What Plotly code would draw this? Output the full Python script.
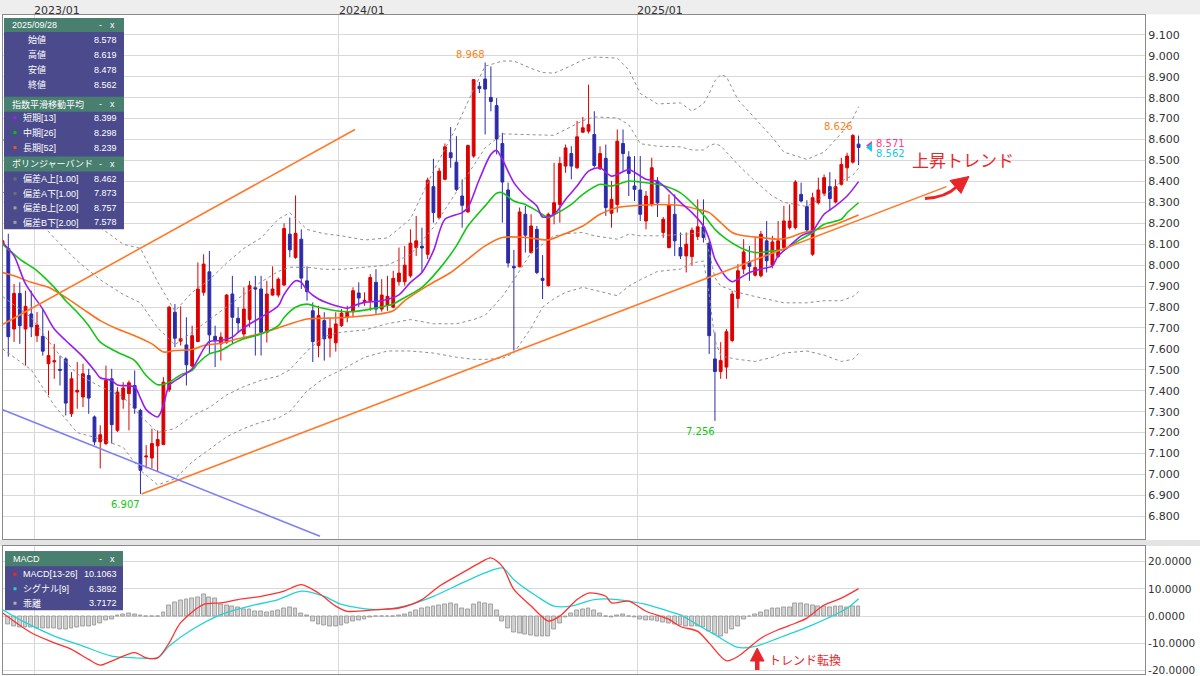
import plotly.graph_objects as go
import pandas as pd

W, H = 1200, 676
ML, MR = 3, 55
PW = W - ML - MR

def PX(px):
    return (px - ML) / PW

def PY(py):
    return 1 - py / H

def wk(k):
    return pd.Timestamp('2022-11-27') + pd.Timedelta(days=7 * k)

# ---------------- data ----------------
dates = pd.date_range('2022-11-20', periods=150, freq='7D')

opens = [8.100, 8.080, 7.695, 7.865, 7.695, 7.767, 7.663, 7.660, 7.529, 7.538, 7.502,
         7.552, 7.290, 7.394, 7.370, 7.473, 7.275, 7.156, 7.148, 7.457, 7.211,
         7.359, 7.386, 7.425, 7.306, 7.084, 7.079, 7.137, 7.143, 7.405, 7.775,
         7.637, 7.619, 7.518, 7.635, 7.870, 7.968, 7.660, 7.624, 7.632, 7.862,
         7.746, 7.671, 7.740, 7.892, 7.886, 7.679, 7.857, 7.857, 7.905, 8.148,
         8.037, 8.124, 7.925, 7.782, 7.616, 7.735, 7.651, 7.629, 7.711, 7.751,
         7.778, 7.867, 7.826, 7.830, 7.918, 7.790, 7.810, 7.799, 7.921, 7.921,
         7.949, 8.084, 8.090, 8.052, 8.375, 8.227, 8.410, 8.537, 8.492, 8.330,
         8.254, 8.521, 8.854, 8.889, 8.801, 8.762, 8.581, 8.359, 7.994, 7.992,
         8.243, 8.060, 8.171, 7.937, 7.902, 8.243, 8.290, 8.473, 8.533, 8.465,
         8.635, 8.640, 8.624, 8.460, 8.510, 8.248, 8.290, 8.581, 8.517, 8.378,
         8.359, 8.211, 8.290, 8.402, 8.156, 8.084, 8.243, 8.084, 8.044, 8.041,
         8.137, 8.183, 8.105, 7.552, 7.492, 7.513, 7.640, 7.841, 7.981, 8.016,
         7.952, 7.949, 8.116, 8.000, 8.041, 8.084, 8.179, 8.179, 8.338, 8.279,
         8.052, 8.298, 8.343, 8.375, 8.302, 8.386, 8.465, 8.492, 8.578]
highs = [8.130, 8.150, 7.910, 7.918, 7.878, 7.878, 7.776, 7.790, 7.687, 7.624, 7.568,
         7.560, 7.489, 7.537, 7.529, 7.505, 7.282, 7.235, 7.520, 7.505, 7.417,
         7.441, 7.449, 7.497, 7.314, 7.140, 7.219, 7.211, 7.465, 7.806, 7.814,
         7.803, 7.751, 7.711, 8.013, 8.052, 8.068, 7.711, 7.679, 7.862, 7.949,
         7.799, 7.894, 7.925, 7.949, 7.949, 7.925, 7.994, 7.941, 8.200, 8.227,
         8.333, 8.171, 7.994, 7.822, 7.806, 7.775, 7.743, 7.775, 7.790, 7.806,
         7.894, 7.918, 7.870, 7.957, 7.981, 7.933, 7.949, 7.973, 8.084, 8.092,
         8.171, 8.235, 8.179, 8.418, 8.508, 8.465, 8.581, 8.660, 8.616, 8.410,
         8.576, 8.889, 8.875, 8.968, 8.949, 8.798, 8.632, 8.394, 8.073, 8.275,
         8.283, 8.243, 8.187, 8.048, 8.251, 8.489, 8.517, 8.576, 8.568, 8.689,
         8.708, 8.862, 8.735, 8.568, 8.576, 8.402, 8.648, 8.648, 8.544, 8.521,
         8.521, 8.354, 8.513, 8.420, 8.230, 8.338, 8.338, 8.156, 8.156, 8.180,
         8.314, 8.314, 8.115, 7.679, 7.632, 7.695, 7.878, 8.005, 8.124, 8.092,
         8.132, 8.163, 8.211, 8.140, 8.211, 8.283, 8.290, 8.406, 8.394, 8.310,
         8.346, 8.418, 8.433, 8.444, 8.410, 8.513, 8.537, 8.626, 8.619]
lows = [8.085, 7.563, 7.633, 7.624, 7.520, 7.656, 7.633, 7.568, 7.378, 7.457, 7.425,
        7.282, 7.275, 7.314, 7.322, 7.290, 7.140, 7.029, 7.140, 7.148, 7.203,
        7.314, 7.211, 7.290, 6.907, 7.029, 7.029, 7.016, 7.140, 7.394, 7.608,
        7.616, 7.425, 7.513, 7.632, 7.854, 7.576, 7.513, 7.544, 7.624, 7.624,
        7.679, 7.648, 7.703, 7.568, 7.568, 7.630, 7.854, 7.846, 7.900, 8.037,
        8.030, 7.886, 7.830, 7.537, 7.560, 7.544, 7.560, 7.587, 7.705, 7.727,
        7.751, 7.799, 7.806, 7.782, 7.767, 7.778, 7.782, 7.794, 7.902, 7.902,
        7.940, 8.044, 7.965, 8.029, 8.203, 8.219, 8.405, 8.465, 8.354, 8.179,
        8.251, 8.513, 8.822, 8.624, 8.735, 8.529, 8.203, 7.989, 7.592, 7.990,
        8.060, 8.055, 7.957, 7.838, 7.898, 8.195, 8.203, 8.441, 8.410, 8.460,
        8.632, 8.629, 8.465, 8.455, 8.235, 8.179, 8.251, 8.449, 8.330, 8.306,
        8.211, 8.171, 8.280, 8.230, 8.130, 8.080, 8.044, 8.029, 7.965, 7.997,
        8.120, 8.108, 7.576, 7.256, 7.457, 7.457, 7.632, 7.794, 7.957, 7.925,
        7.945, 7.941, 7.965, 7.985, 8.035, 8.080, 8.170, 8.170, 8.300, 8.156,
        8.044, 8.290, 8.330, 8.259, 8.295, 8.380, 8.402, 8.485, 8.478]
closes = [8.116, 7.658, 7.865, 7.711, 7.803, 7.706, 7.714, 7.589, 7.568, 7.543, 7.498,
          7.341, 7.457, 7.402, 7.481, 7.365, 7.156, 7.190, 7.449, 7.238, 7.394,
          7.413, 7.438, 7.317, 7.020, 7.088, 7.148, 7.167, 7.441, 7.799, 7.651,
          7.648, 7.524, 7.663, 7.886, 8.005, 7.667, 7.640, 7.656, 7.857, 7.751,
          7.724, 7.790, 7.902, 7.886, 7.679, 7.862, 7.886, 7.933, 8.175, 8.073,
          8.152, 7.938, 7.873, 7.635, 7.759, 7.648, 7.698, 7.719, 7.771, 7.778,
          7.878, 7.843, 7.832, 7.941, 7.790, 7.857, 7.851, 7.937, 7.962, 8.000,
          8.105, 8.116, 8.082, 8.406, 8.251, 8.449, 8.565, 8.513, 8.362, 8.286,
          8.571, 8.886, 8.843, 8.841, 8.782, 8.603, 8.397, 8.010, 7.987, 8.254,
          8.143, 8.187, 7.965, 7.927, 8.243, 8.298, 8.486, 8.560, 8.473, 8.613,
          8.656, 8.671, 8.476, 8.533, 8.275, 8.314, 8.592, 8.533, 8.438, 8.362,
          8.243, 8.330, 8.465, 8.298, 8.219, 8.286, 8.116, 8.044, 8.100, 8.167,
          8.183, 8.132, 7.663, 7.492, 7.544, 7.682, 7.862, 7.973, 8.063, 7.994,
          7.989, 8.148, 8.021, 8.111, 8.116, 8.211, 8.211, 8.397, 8.306, 8.168,
          8.322, 8.359, 8.418, 8.318, 8.375, 8.481, 8.521, 8.619, 8.562]

# exponential moving averages (week index -> value)
ema13_wk = [-1, 1, 3, 6, 8, 10, 13, 15, 16, 18, 19, 22, 23, 24, 26, 27, 28, 30, 32, 34, 35, 37, 39,
            40, 42, 44, 47, 48, 50, 51, 52, 54, 57, 59, 60, 62, 65, 68, 70, 72, 74, 76, 79, 80,
            82, 84, 85, 86, 88, 90, 92, 93, 95, 97, 99, 101, 103, 105, 108, 109, 111, 113, 115,
            117, 119, 121, 122, 123, 125, 126, 127, 129, 131, 133, 134, 136, 138, 140, 141, 142,
            144, 146, 148]
ema13 = [8.108, 8.044, 7.910, 7.790, 7.695, 7.640, 7.562, 7.497, 7.462, 7.449, 7.428, 7.418,
         7.365, 7.310, 7.275, 7.330, 7.425, 7.465, 7.505, 7.600, 7.635, 7.640, 7.656,
         7.679, 7.719, 7.751, 7.806, 7.860, 7.925, 7.918, 7.880, 7.838, 7.806, 7.794, 7.805,
         7.822, 7.830, 7.858, 7.918, 7.965, 8.068, 8.219, 8.251, 8.275,
         8.410, 8.529, 8.548, 8.505, 8.394, 8.330, 8.283, 8.230, 8.243, 8.314, 8.378,
         8.449, 8.465, 8.425, 8.457, 8.444, 8.410, 8.400, 8.355,
         8.300, 8.251, 8.187, 8.124, 8.029, 7.941, 7.921, 7.933, 7.965, 7.981, 7.997,
         8.044, 8.092, 8.140, 8.163, 8.203, 8.243, 8.283, 8.330, 8.399]
ema26_wk = [-1, 2, 5, 8, 10, 12, 14, 16, 19, 22, 24, 26, 28, 30, 32, 33, 35, 37, 39, 41, 44,
            47, 48, 50, 52, 54, 57, 60, 63, 67, 68, 72, 75, 78, 80, 83, 85, 86, 88, 90, 92, 94,
            95, 98, 100, 103, 105, 108, 110, 112, 114, 117, 119, 121, 123, 125, 128, 130, 133,
            135, 138, 140, 142, 145, 146, 148]
ema26 = [8.100, 8.029, 7.973, 7.894, 7.830, 7.775, 7.711, 7.632, 7.584, 7.544, 7.473, 7.429,
         7.441, 7.476, 7.497, 7.530, 7.576, 7.592, 7.624, 7.648, 7.671,
         7.711, 7.750, 7.799, 7.814, 7.799, 7.782, 7.778, 7.790, 7.814, 7.830, 7.894, 7.981,
         8.092, 8.187, 8.283, 8.343, 8.346, 8.306, 8.290, 8.259, 8.227,
         8.240, 8.290, 8.338, 8.386, 8.378, 8.402, 8.397, 8.390, 8.380, 8.345, 8.298, 8.240,
         8.171, 8.124, 8.076, 8.060, 8.068, 8.076, 8.124, 8.156, 8.195, 8.219, 8.250, 8.298]
ema52_wk = [-1, 1, 4, 7, 10, 13, 16, 19, 22, 25, 27, 29, 32, 34, 37, 40, 43, 46, 49, 52, 55,
            59, 64, 67, 69, 73, 77, 80, 83, 86, 90, 94, 96, 100, 103, 106, 110, 113, 117, 120,
            122, 124, 126, 128, 131, 134, 136, 138, 141, 144, 148]
ema52 = [7.965, 7.949, 7.918, 7.894, 7.846, 7.790, 7.735, 7.695, 7.663, 7.624, 7.585, 7.592,
         7.597, 7.616, 7.627, 7.648, 7.667, 7.692, 7.719, 7.743, 7.746,
         7.751, 7.764, 7.782, 7.830, 7.902, 7.965, 8.029, 8.092, 8.132, 8.132, 8.121, 8.140,
         8.187, 8.243, 8.275, 8.286, 8.290, 8.285, 8.267,
         8.251, 8.203, 8.156, 8.140, 8.132, 8.124, 8.132, 8.152, 8.171, 8.195, 8.239]

# Bollinger bands
bb_wk = [-1, 4, 8, 12, 16, 20, 23, 26, 29, 32, 35, 38, 41, 44, 47, 49, 52, 55, 58, 62, 66, 70,
         74, 78, 81, 83, 86, 88, 91, 93, 95, 97, 100, 102, 106, 108, 110, 113, 117, 119, 121,
         122, 123, 124, 125, 127, 130, 133, 135, 139, 142, 145, 147, 148]
bb_up2 = [8.60, 8.50, 8.40, 8.30, 8.18, 8.10, 8.08, 7.92, 7.78, 7.87, 7.93, 8.01, 8.08, 8.13,
          8.22, 8.25, 8.17, 8.15, 8.14, 8.12, 8.13, 8.22,
          8.45, 8.66, 8.84, 8.95, 8.975, 8.975, 8.94, 8.92, 8.917, 8.94, 8.98, 8.994, 8.989,
          8.933, 8.82, 8.77, 8.775, 8.735, 8.77,
          8.82, 8.88, 8.91, 8.90, 8.79, 8.70, 8.61, 8.54, 8.505, 8.54, 8.63, 8.70, 8.757]
bb_up1 = [8.35, 8.25, 8.13, 8.02, 7.93, 7.86, 7.82, 7.70, 7.62, 7.68, 7.74, 7.80, 7.86, 7.92,
          7.97, 7.99, 7.99, 7.98, 7.98, 7.99, 8.00, 8.05,
          8.18, 8.35, 8.48, 8.56, 8.627, 8.625, 8.624, 8.62, 8.62, 8.648, 8.69, 8.708, 8.703,
          8.671, 8.58, 8.568, 8.565, 8.55, 8.55,
          8.57, 8.58, 8.57, 8.54, 8.48, 8.40, 8.33, 8.30, 8.28, 8.33, 8.40, 8.43, 8.462]
bb_dn1 = [7.85, 7.75, 7.60, 7.48, 7.42, 7.37, 7.28, 7.20, 7.22, 7.28, 7.32, 7.38, 7.42, 7.45,
          7.47, 7.50, 7.59, 7.66, 7.68, 7.69, 7.72, 7.74,
          7.72, 7.72, 7.74, 7.76, 7.85, 7.93, 8.06, 8.10, 8.14, 8.15, 8.156, 8.14, 8.124,
          8.148, 8.14, 8.14, 8.148, 8.15, 8.16,
          8.06, 7.94, 7.90, 7.89, 7.87, 7.85, 7.83, 7.82, 7.82, 7.83, 7.83, 7.85, 7.873]
bb_dn2 = [7.60, 7.50, 7.33, 7.20, 7.17, 7.13, 7.02, 6.95, 6.98, 7.06, 7.12, 7.18, 7.22, 7.25,
          7.27, 7.30, 7.40, 7.46, 7.50, 7.56, 7.59, 7.59,
          7.58, 7.56, 7.55, 7.55, 7.555, 7.58, 7.70, 7.80, 7.84, 7.87, 7.894, 7.88, 7.854,
          7.90, 7.93, 7.97, 7.981, 8.01, 8.02,
          7.86, 7.64, 7.57, 7.56, 7.55, 7.54, 7.56, 7.58, 7.59, 7.57, 7.54, 7.55, 7.578]

# MACD
macd_wk = [-1, 4, 8, 11, 14, 16, 18, 22, 24, 26, 28, 30, 34, 37, 40, 44, 48, 51, 54, 57, 59,
           64, 68, 72, 75, 79, 82, 84, 86, 88, 91, 94, 96, 99, 101, 104, 105, 108, 111, 115,
           117, 120, 122, 125, 127, 129, 131, 134, 137, 139, 142, 145, 148]
macd = [1.2, -6.1, -9.8, -12.2, -15.9, -18.0, -16.5, -13.4, -15.3, -15.3, -9.8, -2.4, 4.3,
        4.9, 6.1, 7.3, 9.2, 11.6, 8.5, 3.7, 1.8, 2.4, 3.0, 6.1, 11.0, 15.9, 19.5, 21.4, 18.3,
        9.8, 3.7, -1.8, 0.0, 6.1, 8.5, 7.3, 4.9, 5.5, 1.8, -1.2, -3.8, -5.6, -9.9, -16.4,
        -14.8, -11.5, -8.1, -5.0, -2.6, -0.7, 4.1, 6.6, 10.1063]
signal_wk = [-1, 3, 8, 13, 18, 22, 26, 28, 32, 37, 42, 47, 51, 55, 58, 64, 69, 74, 79, 83, 86,
             88, 92, 95, 98, 102, 106, 111, 115, 117, 120, 123, 127, 130, 134, 140, 146, 148]
signal = [2.4, -2.4, -7.3, -11.0, -14.7, -15.3, -15.3, -11.0, -4.9, 0.6, 3.7, 6.1, 9.2, 7.3,
          4.3, 2.4, 3.7, 7.3, 12.2, 15.9, 17.7, 13.4, 7.3, 3.7, 3.7, 6.1, 6.1, 4.3, 1.8, 0.5,
          -3.2, -6.8, -11.5, -11.1, -8.1, -3.2, 2.9, 6.3892]
hist = [-3.2, -3.7, -4.2, -4.3, -4.3, -4.5, -4.6, -4.6, -4.6, -4.8, -4.9, -4.4, -4.1, -3.9,
        -3.7, -3.5, -2.5, -1.5, -1.0, 0.3, 0.6, 1.2, 0.5, 0.2, -0.2, -0.1, 0.0, 1.5, 4.0, 5.0,
        5.7, 6.1, 6.4, 6.8, 7.9, 7.0, 6.7, 4.3, 3.9, 3.7, 3.1, 2.6, 2.4, 1.9, 1.6, 1.5, 1.6,
        2.1, 2.9, 3.1, 2.8, 1.2, 0.2, -2.0, -3.2, -3.5, -3.7, -3.7, -3.3, -2.7, -2.0, -1.5,
        -1.0, -0.3, -0.2, -0.2, 0.0, 0.1, 0.3, 0.6, 1.5, 2.0, 2.7, 3.2, 3.5, 3.9, 4.5, 4.6,
        4.3, 3.0, 2.6, 4.3, 4.9, 4.6, 4.3, 2.0, -2.0, -4.5, -5.9, -6.4, -6.8, -7.1, -7.3,
        -7.5, -7.6, -4.8, -2.5, -0.5, 1.2, 2.2, 2.5, 2.7, 2.0, 1.0, 0.0, -0.4, 0.2, 0.5, 0.0,
        -0.5, -1.2, -1.4, -1.7, -1.9, -2.2, -2.6, -3.0, -3.4, -3.8, -3.9, -3.8, -4.2, -5.5,
        -6.6, -7.3, -6.5, -5.0, -3.8, -1.0, -0.2, 0.5, 1.5, 2.2, 2.7, 3.0, 3.2, 3.4, 4.6,
        4.8, 4.3, 4.0, 3.7, 3.6, 3.4, 3.7, 3.5, 3.4, 3.6, 3.7172]

year_ticks = ['2022-12-28 12:00', '2024-01-03 12:00', '2025-01-01 12:00']
year_labels = ['2023/01', '2024/01', '2025/01']
price_ticks = [round(6.8 + 0.1 * i, 1) for i in range(24)]
macd_ticks = [-20, -10, 0, 10, 20]

# trend lines drawn on the chart: (week, price) end points
trend_up_top = ([-1.44, 60.35], [7.710, 8.648])
trend_up_long = ([23.2, 163.3], [6.907, 8.375])
trend_down = ([-1.44, 54.25], [7.314, 6.705])

# ---------------- figure ----------------
fig = go.Figure()

RED = '#dc0000'
BLUE = '#2c2ca8'

fig.add_trace(go.Candlestick(
    x=dates, open=opens, high=highs, low=lows, close=closes,
    increasing=dict(line=dict(color=RED, width=1), fillcolor=RED),
    decreasing=dict(line=dict(color=BLUE, width=1), fillcolor=BLUE),
    whiskerwidth=0, xaxis='x', yaxis='y', hoverinfo='skip'))

def line_trace(wks, vals, color, width=1.6, dash='solid', shape='spline', axis='y'):
    fig.add_trace(go.Scatter(
        x=[wk(k) for k in wks], y=vals, mode='lines',
        line=dict(color=color, width=width, dash=dash, shape=shape,
                  smoothing=0.8 if shape == 'spline' else None),
        xaxis='x' if axis == 'y' else 'x2', yaxis=axis, hoverinfo='skip'))

for band in (bb_up2, bb_up1, bb_dn1, bb_dn2):
    line_trace(bb_wk, band, '#8f8f8f', width=1, dash='dot', shape='linear')

line_trace(ema52_wk, ema52, '#ff6f1a')
line_trace(ema26_wk, ema26, '#13c613')
line_trace(ema13_wk, ema13, '#9a1df0')

line_trace(trend_up_top[0], trend_up_top[1], '#ff7a2a', width=1.6, shape='linear')
line_trace(trend_up_long[0], trend_up_long[1], '#ff7a2a', width=1.6, shape='linear')
line_trace(trend_down[0], trend_down[1], '#7f7ff5', width=1.6, shape='linear')

# last price markers
fig.add_trace(go.Scatter(x=[wk(150), wk(150)], y=[8.571, 8.562], mode='markers',
                         marker=dict(symbol='triangle-left', size=8,
                                     color=['#ff2f8e', '#1cc6f2']),
                         xaxis='x', yaxis='y', hoverinfo='skip'))

# MACD panel
fig.add_trace(go.Bar(x=dates[1:], y=hist, width=4.6 * 86400000,
                     marker=dict(color='#d2d2d2', line=dict(color='#8e8e8e', width=0.8)),
                     xaxis='x2', yaxis='y2', hoverinfo='skip'))
line_trace(signal_wk, signal, '#22d3d3', width=1.3, axis='y2')
line_trace(macd_wk, macd, '#ff3030', width=1.3, axis='y2')

AX_FONT = dict(family='DejaVu Sans', size=11, color='#333333')
GRID = '#d9d9d9'
BORDER = '#8a8a8a'
x_range = ['2022-11-20 13:00', '2026-09-12']

fig.update_layout(
    width=W, height=H, showlegend=False,
    margin=dict(l=ML, r=MR, t=0, b=0),
    paper_bgcolor='white', plot_bgcolor='white',
    bargap=0,
    xaxis=dict(domain=[0, 1], range=x_range, type='date', tickvals=year_ticks,
               showticklabels=False, showgrid=True, gridcolor=GRID, gridwidth=1,
               showline=True, mirror=True, linecolor=BORDER, zeroline=False,
               rangeslider=dict(visible=False), anchor='y', ticks=''),
    xaxis2=dict(domain=[0, 1], range=x_range, type='date', tickvals=year_ticks,
                showticklabels=False, showgrid=True, gridcolor=GRID, matches='x',
                showline=True, mirror=True, linecolor=BORDER, zeroline=False,
                anchor='y2', ticks=''),
    yaxis=dict(domain=[1 - 541 / H, 1 - 15 / H], range=[6.690, 9.195], side='right',
               tickvals=price_ticks, ticktext=['%.3f' % v for v in price_ticks],
               tickfont=AX_FONT, showgrid=True, gridcolor=GRID, showline=True,
               mirror=True, linecolor=BORDER, zeroline=False, anchor='x', ticks=''),
    yaxis2=dict(domain=[0, 1 - 548 / H], range=[-21.25, 25.64], side='right',
                tickvals=macd_ticks, ticktext=['%.4f' % v for v in macd_ticks],
                tickfont=dict(AX_FONT, size=10.5), showgrid=True, gridcolor=GRID, showline=True,
                mirror=True, linecolor=BORDER, zeroline=False, anchor='x2', ticks='',
                ticklabeloverflow='allow'),
)

shapes = []
# top strip & separator
shapes.append(dict(type='rect', xref='paper', yref='paper', x0=PX(0), x1=PX(W),
                   y0=PY(14.5), y1=PY(0), fillcolor='#eeeeee', line=dict(width=0), layer='below'))
shapes.append(dict(type='rect', xref='paper', yref='paper', x0=PX(0), x1=PX(W),
                   y0=PY(547.5), y1=PY(541.5), fillcolor='#e4e4e4', line=dict(width=0), layer='below'))

annotations = []
for tv, tl in zip(year_ticks, year_labels):
    annotations.append(dict(x=tv, y=PY(2), xref='x', yref='paper', text=tl, showarrow=False,
                            xanchor='left', yanchor='top', font=AX_FONT, xshift=-2))

def txt(px, py, s, color='white', size=9, xanchor='left', family='Liberation Sans, Noto Sans CJK JP'):
    annotations.append(dict(xref='paper', yref='paper', x=PX(px), y=PY(py), text=s,
                            showarrow=False, xanchor=xanchor, yanchor='middle',
                            font=dict(family=family, size=size, color=color), borderpad=0))

def rect(x0, y0, x1, y1, color):
    shapes.append(dict(type='rect', xref='paper', yref='paper', x0=PX(x0), x1=PX(x1),
                       y0=PY(y1), y1=PY(y0), fillcolor=color, line=dict(width=0), layer='above'))

HEAD = '#487f6f'
BODY = '#4a4a8c'

# main info panel
rect(4, 18, 124, 230, BODY)
for (a, b) in [(18, 32), (97, 112), (157, 172)]:
    rect(4, a, 124, b, HEAD)
headers = [(25, '2025/09/28'), (104.5, '指数平滑移動平均'), (164.5, 'ボリンジャーバンド')]
for y, s in headers:
    txt(11, y, s)
    txt(98, y, '-')
    txt(116, y, 'x', xanchor='right')
ohlc_rows = [('始値', '8.578'), ('高値', '8.619'), ('安値', '8.478'), ('終値', '8.562')]
for i, (lab, val) in enumerate(ohlc_rows):
    y = 40 + 15 * i
    txt(27, y, lab)
    txt(118, y, val, xanchor='right')
ema_rows = [('短期[13]', '8.399', '#a020f0'), ('中期[26]', '8.298', '#00c800'),
            ('長期[52]', '8.239', '#ff5010')]
for i, (lab, val, c) in enumerate(ema_rows):
    y = 118 + 15 * i
    rect(13.5, y - 1.5, 16.5, y + 1.5, c)
    txt(22, y, lab)
    txt(118, y, val, xanchor='right')
bb_rows = [('偏差A上[1.00]', '8.462', '#6e6e6e'), ('偏差A下[1.00]', '7.873', '#6e6e6e'),
           ('偏差B上[2.00]', '8.757', '#a0a0a0'), ('偏差B下[2.00]', '7.578', '#a0a0a0')]
for i, (lab, val, c) in enumerate(bb_rows):
    y = 179.5 + 14.5 * i
    rect(13.5, y - 1.5, 16.5, y + 1.5, c)
    txt(22, y, lab)
    txt(118, y, val, xanchor='right')

# MACD info panel
rect(5, 553, 123, 612, BODY)
rect(5, 553, 123, 568, HEAD)
txt(12, 560.5, 'MACD')
txt(98, 560.5, '-')
txt(116, 560.5, 'x', xanchor='right')
macd_rows = [('MACD[13-26]', '10.1063', '#ff2020'), ('シグナル[9]', '6.3892', '#20d0d0'),
             ('乖離', '3.7172', '#b0b0b0')]
for i, (lab, val, c) in enumerate(macd_rows):
    y = 576 + 14.5 * i
    rect(13.5, y - 1.5, 16.5, y + 1.5, c)
    txt(22, y, lab)
    txt(118, y, val, xanchor='right')

# price labels on the chart
LBL = dict(family='DejaVu Sans', size=10)
def plabel(k, price, s, color, top):
    annotations.append(dict(x=wk(k), y=price, xref='x', yref='y', text=s, showarrow=False,
                            xanchor='right', yanchor='top' if top else 'bottom',
                            xshift=2, yshift=-3 if top else 0,
                            font=dict(LBL, color=color)))
plabel(83, 8.968, '8.968', '#ff8015', False)
plabel(147, 8.626, '8.626', '#ff8015', False)
plabel(23, 6.907, '6.907', '#10c810', True)
plabel(123, 7.256, '7.256', '#10c810', True)
annotations.append(dict(x=wk(150), y=8.571, xref='x', yref='y', text='8.571', showarrow=False,
                        xanchor='left', yanchor='middle', xshift=4, yshift=2,
                        font=dict(LBL, color='#ff3a8c')))
annotations.append(dict(x=wk(150), y=8.562, xref='x', yref='y', text='8.562', showarrow=False,
                        xanchor='left', yanchor='middle', xshift=4, yshift=-6,
                        font=dict(LBL, color='#18c3f0')))

# trend text and arrows
txt(911, 160, '上昇トレンド', color='#e8262a', size=17, family='Noto Sans CJK JP')
shapes.append(dict(type='path', xref='paper', yref='paper',
                   path='M %f,%f Q %f,%f %f,%f' % (PX(925), PY(199), PX(946), PY(198), PX(957), PY(187)),
                   line=dict(color='#e8262a', width=3)))
shapes.append(dict(type='path', xref='paper', yref='paper',
                   path='M %f,%f L %f,%f L %f,%f Z' % (PX(969), PY(177), PX(950), PY(181), PX(961), PY(194)),
                   fillcolor='#e8262a', line=dict(color='#e8262a', width=1)))

txt(768, 661.5, 'トレンド転換', color='#e8262a', size=12, family='Noto Sans CJK JP')
rect(755, 662, 759.5, 672, '#e8262a')
shapes.append(dict(type='path', xref='paper', yref='paper',
                   path='M %f,%f L %f,%f L %f,%f Z' % (PX(757.2), PY(650), PX(750.5), PY(663), PX(764), PY(663)),
                   fillcolor='#e8262a', line=dict(color='#e8262a', width=1)))

fig.update_layout(shapes=shapes, annotations=annotations)
fig.write_html('out.html', config={'displayModeBar': False},
               post_script="document.body.style.margin='0px';")
